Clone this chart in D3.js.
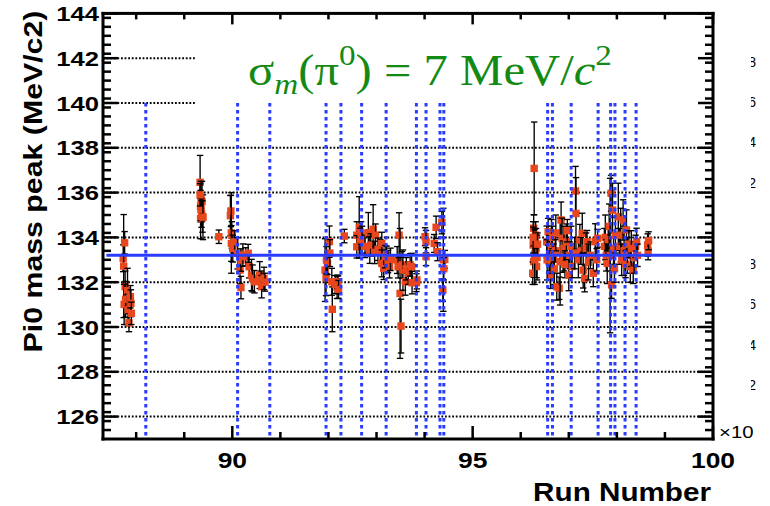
<!DOCTYPE html>
<html><head><meta charset="utf-8">
<script src="https://cdn.jsdelivr.net/npm/d3@7"></script>
<style>body{margin:0;background:#fff}svg{display:block}</style>
</head><body>
<svg id="c" width="770" height="506"></svg>
<script>
// ---- data (run number in units of 10^3) ----
const runs = [
 87.73,87.74,87.76,87.77,87.75,87.78,87.82,87.83,87.85,87.88,87.89,87.90,
 89.33,89.35,89.37,89.34,89.38,89.34,89.36,89.35,89.39,89.33,
 89.72,
 89.96,89.97,89.98,89.99,89.98,90.01,90.05,90.11,90.16,90.18,90.22,90.18,90.28,90.33,90.35,90.40,90.42,90.46,90.57,90.60,90.61,90.66,90.68,
 91.93,91.95,91.96,91.98,92.02,92.03,92.08,92.07,92.14,92.18,92.20,92.19,92.21,
 92.33,
 92.59,92.59,92.64,92.66,92.68,92.70,92.76,92.83,92.86,92.88,92.93,92.96,92.98,93.03,93.08,93.11,93.11,93.15,93.18,93.21,93.24,93.27,93.29,
 93.43,93.45,93.47,93.49,93.51,93.53,93.55,93.60,93.62,93.66,93.70,93.73,93.74,93.84,93.83,
 94.01,94.03,94.03,
 94.20,94.24,94.27,94.36,94.38,94.39,94.42,94.40,
 96.28,96.27,96.29,96.26,96.30,96.27,96.25,96.32,96.31,96.34,96.33,96.29,96.26,96.35,
 96.54,96.57,96.60,96.59,96.62,96.55,96.64,96.66,96.68,96.70,96.72,96.75,96.73,
 96.80,96.82,96.84,96.86,96.88,96.90,96.92,96.95,96.97,97.00,97.02,97.05,97.07,97.14,97.15,97.12,
 97.20,97.23,97.25,97.28,97.30,97.33,97.36,97.38,97.41,97.45,97.51,97.55,97.58,97.60,
 97.74,97.76,97.78,97.80,97.82,97.84,97.86,97.88,97.89,97.91,97.93,97.95,97.97,
 98.03,98.05,98.08,98.10,98.13,98.15,98.18,98.20,98.22,98.25,98.28,98.30,98.34,98.36,98.39,98.41,98.43,
 98.64,98.65,98.66
];
const peaks = [
 133.07,132.72,133.76,131.80,131.01,131.24,131.62,130.76,130.19,131.35,131.06,130.61,
 136.46,135.70,135.60,135.40,134.93,134.84,135.05,135.25,134.90,135.90,
 134.03,
 134.97,135.18,134.20,134.10,133.73,133.50,133.80,133.29,132.54,132.99,133.21,131.76,133.14,133.29,132.69,132.32,132.17,132.02,132.32,132.10,131.80,132.17,132.00,
 132.54,132.20,132.99,132.84,133.81,133.30,130.79,132.02,131.90,131.77,131.88,132.02,131.68,
 134.06,
 134.10,133.58,134.45,133.81,134.20,133.90,133.60,134.21,133.44,133.66,134.36,133.33,134.10,133.47,133.40,133.73,132.84,132.62,133.14,133.21,132.92,132.69,133.02,
 132.99,132.69,134.10,131.50,130.04,132.77,132.54,132.02,132.60,132.40,132.77,132.69,131.98,132.10,131.98,
 134.03,133.81,133.14,
 133.73,134.45,133.36,134.66,131.65,133.00,133.02,132.60,
 137.08,134.41,133.86,133.66,133.29,132.92,132.40,133.50,134.10,133.10,132.70,133.00,134.00,133.70,
 133.81,134.25,133.29,132.92,132.32,133.00,133.60,134.00,133.10,132.60,133.40,131.80,134.20,
 131.73,132.92,134.78,133.96,133.14,133.50,132.80,133.80,134.30,132.32,133.20,133.60,132.70,136.07,135.07,133.30,
 133.00,133.88,133.40,134.18,132.54,132.17,133.50,133.81,132.90,133.20,132.40,133.81,133.00,133.96,
 133.60,134.00,133.20,132.84,133.90,134.49,133.19,135.97,131.88,135.22,133.50,132.60,134.10,
 134.92,133.60,134.10,133.00,134.78,133.40,132.80,134.33,133.20,133.70,132.70,133.50,132.54,133.10,133.60,133.81,133.20,
 133.66,133.40,133.85
];
const errors = [
 0.6,2.3,0.5,0.7,0.9,0.8,1.0,0.7,0.4,0.5,0.6,0.5,
 1.2,0.8,0.9,0.7,0.7,0.9,0.6,0.5,1.0,0.5,
 0.3,
 0.9,0.7,1.8,0.6,0.8,0.6,0.5,0.7,0.6,0.5,0.5,0.5,0.4,0.4,0.5,0.7,0.6,0.5,0.6,0.4,0.5,0.5,0.4,
 1.4,0.8,0.6,0.5,0.7,0.6,1.0,0.6,0.4,0.5,0.4,0.3,0.4,
 0.3,
 0.6,0.5,1.37,0.6,0.5,0.6,0.5,0.9,0.6,0.5,1.1,0.5,0.5,0.5,0.5,0.5,0.6,0.5,0.5,0.4,0.5,0.5,0.5,
 0.6,0.5,1.0,2.9,1.2,0.6,0.9,0.6,0.5,0.5,0.5,0.6,0.5,0.4,0.4,
 0.4,0.5,0.4,
 0.4,0.5,0.4,0.5,0.5,2.3,0.4,0.5,
 2.07,0.6,0.5,0.8,0.6,0.7,0.5,0.9,0.6,1.0,0.5,1.1,0.7,0.5,
 0.7,0.6,0.8,0.5,0.6,0.9,1.2,0.5,0.6,0.7,0.5,0.6,0.8,
 0.5,1.94,0.8,0.9,0.7,1.0,0.6,0.8,0.5,0.7,0.6,0.9,0.5,1.1,1.6,0.7,
 0.8,0.7,0.6,0.9,0.8,0.6,0.7,0.5,0.8,0.6,0.6,0.8,0.5,0.4,
 0.8,1.0,0.7,0.9,0.6,1.0,3.45,0.8,0.6,1.2,0.7,0.6,0.8,
 1.5,0.8,1.2,0.7,0.9,1.1,0.6,0.9,0.8,0.6,0.7,0.8,0.6,0.7,0.5,0.6,0.5,
 0.5,0.4,0.4
];
const boundaryRuns = [88.20,90.11,90.78,91.95,92.26,92.69,93.20,93.83,94.03,94.32,94.40,
  96.56,96.66,97.05,97.61,97.87,97.96,98.17,98.40];
const boundaryTop = 140;
const meanPeak = 133.2;
const meanRange = [87.38, 100];
const yMajorTicks = [126,128,130,132,134,136,138,140,142,144];
const xMajorTicks = [90,95,100];
const xLabels = ["90","95","100"];
const sideTicks = [0.2,0.4,0.6,0.8];
const titleParts = ["σ","m","(π","0",") = 7 MeV/","c","2"];
const yTitle = "Pi0 mass peak (MeV/c2)";
const xTitle = "Run Number";
const xExponent = "×10";

// ---- layout ----
const svg = d3.select("#c");
const L = 103, R = 713, T = 13.4, B = 439;
const x = d3.scaleLinear().domain([87.31, 100]).range([L, R]);
const y = d3.scaleLinear().domain([125, 144]).range([B, T]);
const yMinor = d3.range(0, 48).map(i => 125 + i * 0.4).filter(v => v > 125.1 && v < 143.9 && Math.abs(v / 2 - Math.round(v / 2)) > 0.01);
const xMinor = d3.range(88, 100, 1).filter(v => v % 5 !== 0);
const FONT = "'Liberation Sans', Arial, Helvetica, sans-serif";

function hline(g, x1, x2, yy, w, col) {
  return g.append("line").attr("x1", x1).attr("x2", x2).attr("y1", yy).attr("y2", yy).attr("stroke", col).attr("stroke-width", w);
}
function vline(g, xx, y1, y2, w, col) {
  return g.append("line").attr("x1", xx).attr("x2", xx).attr("y1", y1).attr("y2", y2).attr("stroke", col).attr("stroke-width", w);
}
function bar(g, x0, y0, w, h) {
  return g.append("rect").attr("x", Math.min(x0, x0 + w)).attr("y", Math.min(y0, y0 + h))
    .attr("width", Math.abs(w)).attr("height", Math.abs(h)).attr("fill", "#000");
}
function fitX(sel, target, ax) {
  const w = sel.node().getBBox().width;
  if (w > 0) sel.attr("transform", `translate(${ax},0) scale(${target / w},1) translate(${-ax},0)`);
}

// grid lines (dotted)
const grid = svg.append("g");
yMajorTicks.filter(v => v < 144).forEach(v => {
  hline(grid, L, R, y(v), 2, "#000").attr("stroke-dasharray", "1.8,1.8");
});

// title box
svg.append("rect").attr("x", 195).attr("y", 30).attr("width", 516).attr("height", 74.5).attr("fill", "#fff");

// data points
const pts = svg.append("g");
runs.forEach((r, i) => {
  const cx = x(r), y1 = y(peaks[i] - errors[i]), y2 = y(peaks[i] + errors[i]);
  vline(pts, cx, y1, y2, 1.35, "#000");
  hline(pts, cx - 3.2, cx + 3.2, y1, 1.35, "#000");
  hline(pts, cx - 3.2, cx + 3.2, y2, 1.35, "#000");
  pts.append("rect").attr("x", cx - 3.7).attr("y", y(peaks[i]) - 3.7).attr("width", 7.4).attr("height", 7.4).attr("fill", "#e8471d");
});

// blue lines
const blue = svg.append("g");
boundaryRuns.forEach(r => {
  vline(blue, x(r), y(boundaryTop), B, 3, "#2a3cff").attr("stroke-dasharray", "3.5,3.5");
});
hline(blue, x(meanRange[0]), x(meanRange[1]), y(meanPeak), 3, "#2a3cff");

// ticks and frame as filled bars
const tk = svg.append("g");
const tw = 2.5;
yMajorTicks.forEach(v => {
  bar(tk, L, y(v) - tw / 2, 15, tw);
  bar(tk, R, y(v) - tw / 2, -15, tw);
});
yMinor.forEach(v => {
  bar(tk, L, y(v) - tw / 2, 8, tw);
  bar(tk, R, y(v) - tw / 2, -8, tw);
});
xMajorTicks.forEach(v => {
  bar(tk, x(v) - tw / 2, B, tw, -13);
  bar(tk, x(v) - tw / 2, T, tw, 11);
});
xMinor.forEach(v => {
  bar(tk, x(v) - tw / 2, B, tw, -7);
  bar(tk, x(v) - tw / 2, T, tw, 6);
});
const fw = 3;
bar(tk, L - fw / 2, T - fw / 2, R - L + fw, fw);
bar(tk, L - fw / 2, B - fw / 2, R - L + fw, fw);
bar(tk, L - fw / 2, T - fw / 2, fw, B - T + fw);
bar(tk, R - fw / 2, T - fw / 2, fw, B - T + fw);

// tick labels
yMajorTicks.forEach(v => {
  svg.append("text").attr("x", L - 4).attr("y", y(v) + 7.6).attr("text-anchor", "end")
    .attr("font-family", FONT).attr("font-weight", "bold").attr("font-size", 21).text(v)
    .attr("transform", `translate(${L - 4},0) scale(1.22,1) translate(${-(L - 4)},0)`);
});
xMajorTicks.forEach((v, i) => {
  svg.append("text").attr("x", x(v)).attr("y", 468).attr("text-anchor", "middle")
    .attr("font-family", FONT).attr("font-weight", "bold").attr("font-size", 22).text(xLabels[i])
    .attr("transform", `translate(${x(v)},0) scale(1.2,1) translate(${-x(v)},0)`);
});

// title
const tt = svg.append("text").attr("x", 248).attr("y", 85).attr("fill", "#138a13")
  .attr("font-family", "'Liberation Serif', 'Times New Roman', serif").attr("font-size", 44);
tt.append("tspan").text(titleParts[0]);
tt.append("tspan").attr("font-style", "italic").attr("font-size", 30).attr("dy", 9).text(titleParts[1]);
tt.append("tspan").attr("dy", -9).text(titleParts[2]);
tt.append("tspan").attr("font-size", 30).attr("dy", -20).text(titleParts[3]);
tt.append("tspan").attr("dy", 20).text(titleParts[4]);
tt.append("tspan").attr("font-style", "italic").text(titleParts[5]);
tt.append("tspan").attr("font-size", 30).attr("dy", -20).text(titleParts[6]);
fitX(tt, 364, 248);

// x title
const xt = svg.append("text").attr("x", 711).attr("y", 501).attr("text-anchor", "end")
  .attr("font-family", FONT).attr("font-weight", "bold").attr("font-size", 26).text(xTitle);
fitX(xt, 178, 711);

// y title
const yt = svg.append("text").attr("x", 0).attr("y", 0).attr("text-anchor", "middle")
  .attr("font-family", FONT).attr("font-weight", "bold").attr("font-size", 22).text(yTitle);
const yw = yt.node().getComputedTextLength() || 250;
yt.attr("transform", `translate(42,181.5) scale(1.18,1) rotate(-90) scale(${342 / yw},1)`);

// exponent (cut off at the page edge) and clipped side labels, clipped with nested viewports
const expBox = svg.append("svg").attr("x", 714).attr("y", 410).attr("width", 39).attr("height", 40);
expBox.append("text").attr("x", 5).attr("y", 28).attr("font-family", FONT).attr("font-size", 17)
  .text(xExponent).attr("transform", "translate(5,0) scale(1.2,1) translate(-5,0)");
const pads = [d3.scaleLinear().domain([0, 1]).range([223, 21.5]), d3.scaleLinear().domain([0, 1]).range([425.5, 223])];
const sideBox = svg.append("svg").attr("x", 751).attr("y", 0).attr("width", 19).attr("height", 506);
pads.forEach(p => sideTicks.forEach(v => {
  sideBox.append("text").attr("x", 5).attr("y", p(v) + 5).attr("text-anchor", "end")
    .attr("font-family", FONT).attr("font-size", 14).text(d3.format(".1f")(v));
}));
</script>
</body></html>
